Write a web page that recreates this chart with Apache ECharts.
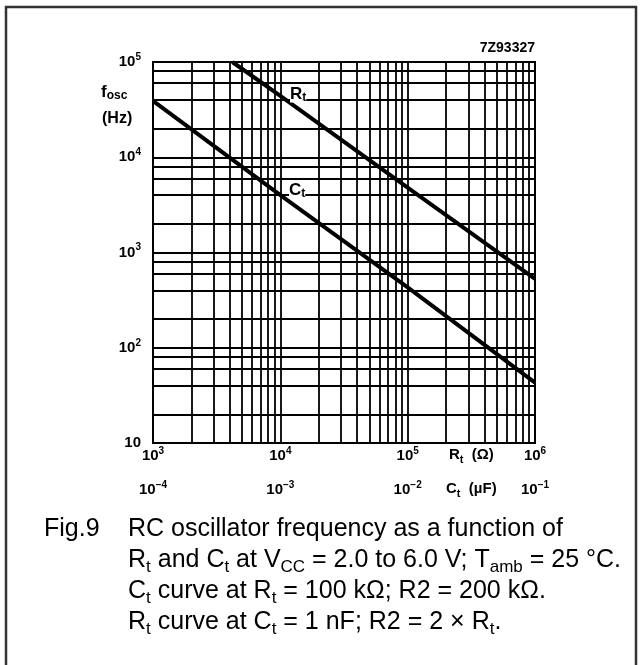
<!DOCTYPE html>
<html><head><meta charset="utf-8">
<script src="https://cdn.jsdelivr.net/npm/echarts@6/dist/echarts.min.js"></script>
<style>html,body{margin:0;padding:0;background:#fff}#c{width:642px;height:665px}</style>
</head><body><div id="c"></div>
<script>
// Rt curve (C_t = 1 nF)
const rtValues = [4200, 10000, 100000, 1000000];   // ohm
const rtFreq   = [100000, 44000, 4800, 530];       // Hz
// Ct curve (R_t = 100 kOhm)
const ctValues = [0.0001, 0.001, 0.01, 0.1];       // uF
const ctFreq   = [39000, 4000, 430, 43];           // Hz
// grid lines
const xGridLines = [2000,3000,4000,5000,6000,7000,8000,9000,10000,
  20000,30000,40000,50000,60000,70000,80000,90000,100000,
  200000,300000,400000,500000,600000,700000,800000,900000];
const yGridLines = [20,40,60,80,100,200,400,600,800,1000,2000,4000,6000,8000,10000,20000,40000,60000,80000];

const FONT = '"Liberation Sans", Arial, sans-serif';
const supRich = {
  b: {fontSize: 15, fontWeight: 'bold', fontFamily: FONT, color: '#000', lineHeight: 20},
  s: {fontSize: 10, fontWeight: 'bold', fontFamily: FONT, color: '#000', lineHeight: 11, verticalAlign: 'top'}
};
const subRich = {
  b: {fontSize: 15, fontWeight: 'bold', fontFamily: FONT, color: '#000', lineHeight: 20},
  u: {fontSize: 11, fontWeight: 'bold', fontFamily: FONT, color: '#000', lineHeight: 11, verticalAlign: 'bottom'}
};
function expOf(v){ return Math.round(Math.log10(v)); }
function pow10(v){ const e = expOf(v); return e === 1 ? '{b|10}' : '{b|10}{s|' + (e < 0 ? '\u2212' + (-e) : e) + '}'; }

const chart = echarts.init(document.getElementById('c'), null, {renderer: 'canvas'});
const capRich = {
  t: {fontSize: 25, fontFamily: FONT, color: '#000', lineHeight: 31},
  u: {fontSize: 17, fontFamily: FONT, color: '#000', lineHeight: 14, verticalAlign: 'bottom'}
};
const curveLabelRich = {
  b: {fontSize: 17, fontWeight: 'bold', fontFamily: FONT, color: '#000', lineHeight: 20, backgroundColor: '#fff'},
  u: {fontSize: 12, fontWeight: 'bold', fontFamily: FONT, color: '#000', lineHeight: 12, verticalAlign: 'bottom', backgroundColor: '#fff'}
};
chart.setOption({
  animation: false,
  backgroundColor: '#fff',
  grid: {left: 153, top: 62, width: 382, height: 381, show: true, borderColor: '#000', borderWidth: 2, backgroundColor: 'transparent'},
  xAxis: [
    {type: 'log', logBase: 10, min: 1e3, max: 1e6, position: 'bottom',
     axisLine: {show: false}, axisTick: {show: false}, splitLine: {show: false}, minorSplitLine: {show: false},
     axisLabel: {margin: 3, formatter: pow10, rich: supRich, showMinLabel: true, showMaxLabel: true}},
    {type: 'log', logBase: 10, min: 1e-4, max: 1e-1, position: 'bottom', offset: 34,
     axisLine: {show: false}, axisTick: {show: false}, splitLine: {show: false},
     axisLabel: {margin: 3, formatter: pow10, rich: supRich, showMinLabel: true, showMaxLabel: true}}
  ],
  yAxis: {type: 'log', logBase: 10, min: 10, max: 1e5,
     axisLine: {show: false}, axisTick: {show: false}, splitLine: {show: false},
     axisLabel: {margin: 12, formatter: pow10, rich: supRich, showMinLabel: true, showMaxLabel: true}},
  series: [
    {type: 'line', xAxisIndex: 0, yAxisIndex: 0, data: [], silent: true, z: 1,
     markLine: {silent: true, z: 1, symbol: ['none', 'none'], label: {show: false},
       lineStyle: {color: '#000', type: 'solid', width: 1.8},
       emphasis: {disabled: true},
       data: xGridLines.map(v => ({xAxis: v})).concat(yGridLines.map(v => ({yAxis: v})))}},
    {type: 'line', name: 'Rt', xAxisIndex: 0, yAxisIndex: 0, z: 10, showSymbol: false, silent: true,
     lineStyle: {color: '#000', width: 4}, data: rtValues.map((v, i) => [v, rtFreq[i]])},
    {type: 'line', name: 'Ct', xAxisIndex: 1, yAxisIndex: 0, z: 10, showSymbol: false, silent: true,
     lineStyle: {color: '#000', width: 4}, data: ctValues.map((v, i) => [v, ctFreq[i]])}
  ],
  graphic: [
    {type: 'rect', z: 100, silent: true, shape: {x: 6, y: 7, width: 630, height: 720},
     style: {fill: 'none', stroke: '#333', lineWidth: 2.5}},
    {type: 'text', z: 100, x: 535, y: 41, style: {text: '7Z93327', font: 'bold 14px ' + FONT, fill: '#000', align: 'right'}},
    {type: 'text', z: 100, x: 101, y: 82, style: {text: '{b|f}{u|osc}', rich: {b: {fontSize: 17, fontWeight: 'bold', fontFamily: FONT, lineHeight: 20}, u: {fontSize: 12, fontWeight: 'bold', fontFamily: FONT, lineHeight: 11, verticalAlign: 'bottom'}}}},
    {type: 'text', z: 100, x: 102, y: 111, style: {text: '(Hz)', font: 'bold 16px ' + FONT, fill: '#000'}},
    {type: 'text', z: 100, x: 449, y: 445, style: {text: '{b|R}{u|t}{b|  (\u03A9)}', rich: subRich}},
    {type: 'text', z: 100, x: 446, y: 479, style: {text: '{b|C}{u|t}{b|  (\u00B5F)}', rich: subRich}},
    {type: 'text', z: 100, x: 290, y: 84, style: {text: '{b|R}{u|t}', rich: curveLabelRich}},
    {type: 'text', z: 100, x: 289, y: 180, style: {text: '{b|C}{u|t}', rich: curveLabelRich}},
    {type: 'text', z: 100, x: 44, y: 514, style: {text: '{t|Fig.9}', rich: capRich}},
    {type: 'text', z: 100, x: 128, y: 514, style: {text: '{t|RC oscillator frequency as a function of}', rich: capRich}},
    {type: 'text', z: 100, x: 128, y: 545, style: {text: '{t|R}{u|t}{t| and C}{u|t}{t| at V}{u|CC}{t| = 2.0 to 6.0 V; T}{u|amb}{t| = 25 \u00B0C.}', rich: capRich}},
    {type: 'text', z: 100, x: 128, y: 576, style: {text: '{t|C}{u|t}{t| curve at R}{u|t}{t| = 100 k\u03A9; R2 = 200 k\u03A9.}', rich: capRich}},
    {type: 'text', z: 100, x: 128, y: 607, style: {text: '{t|R}{u|t}{t| curve at C}{u|t}{t| = 1 nF; R2 = 2 \u00D7 R}{u|t}{t|.}', rich: capRich}}
  ]
});
</script></body></html>
